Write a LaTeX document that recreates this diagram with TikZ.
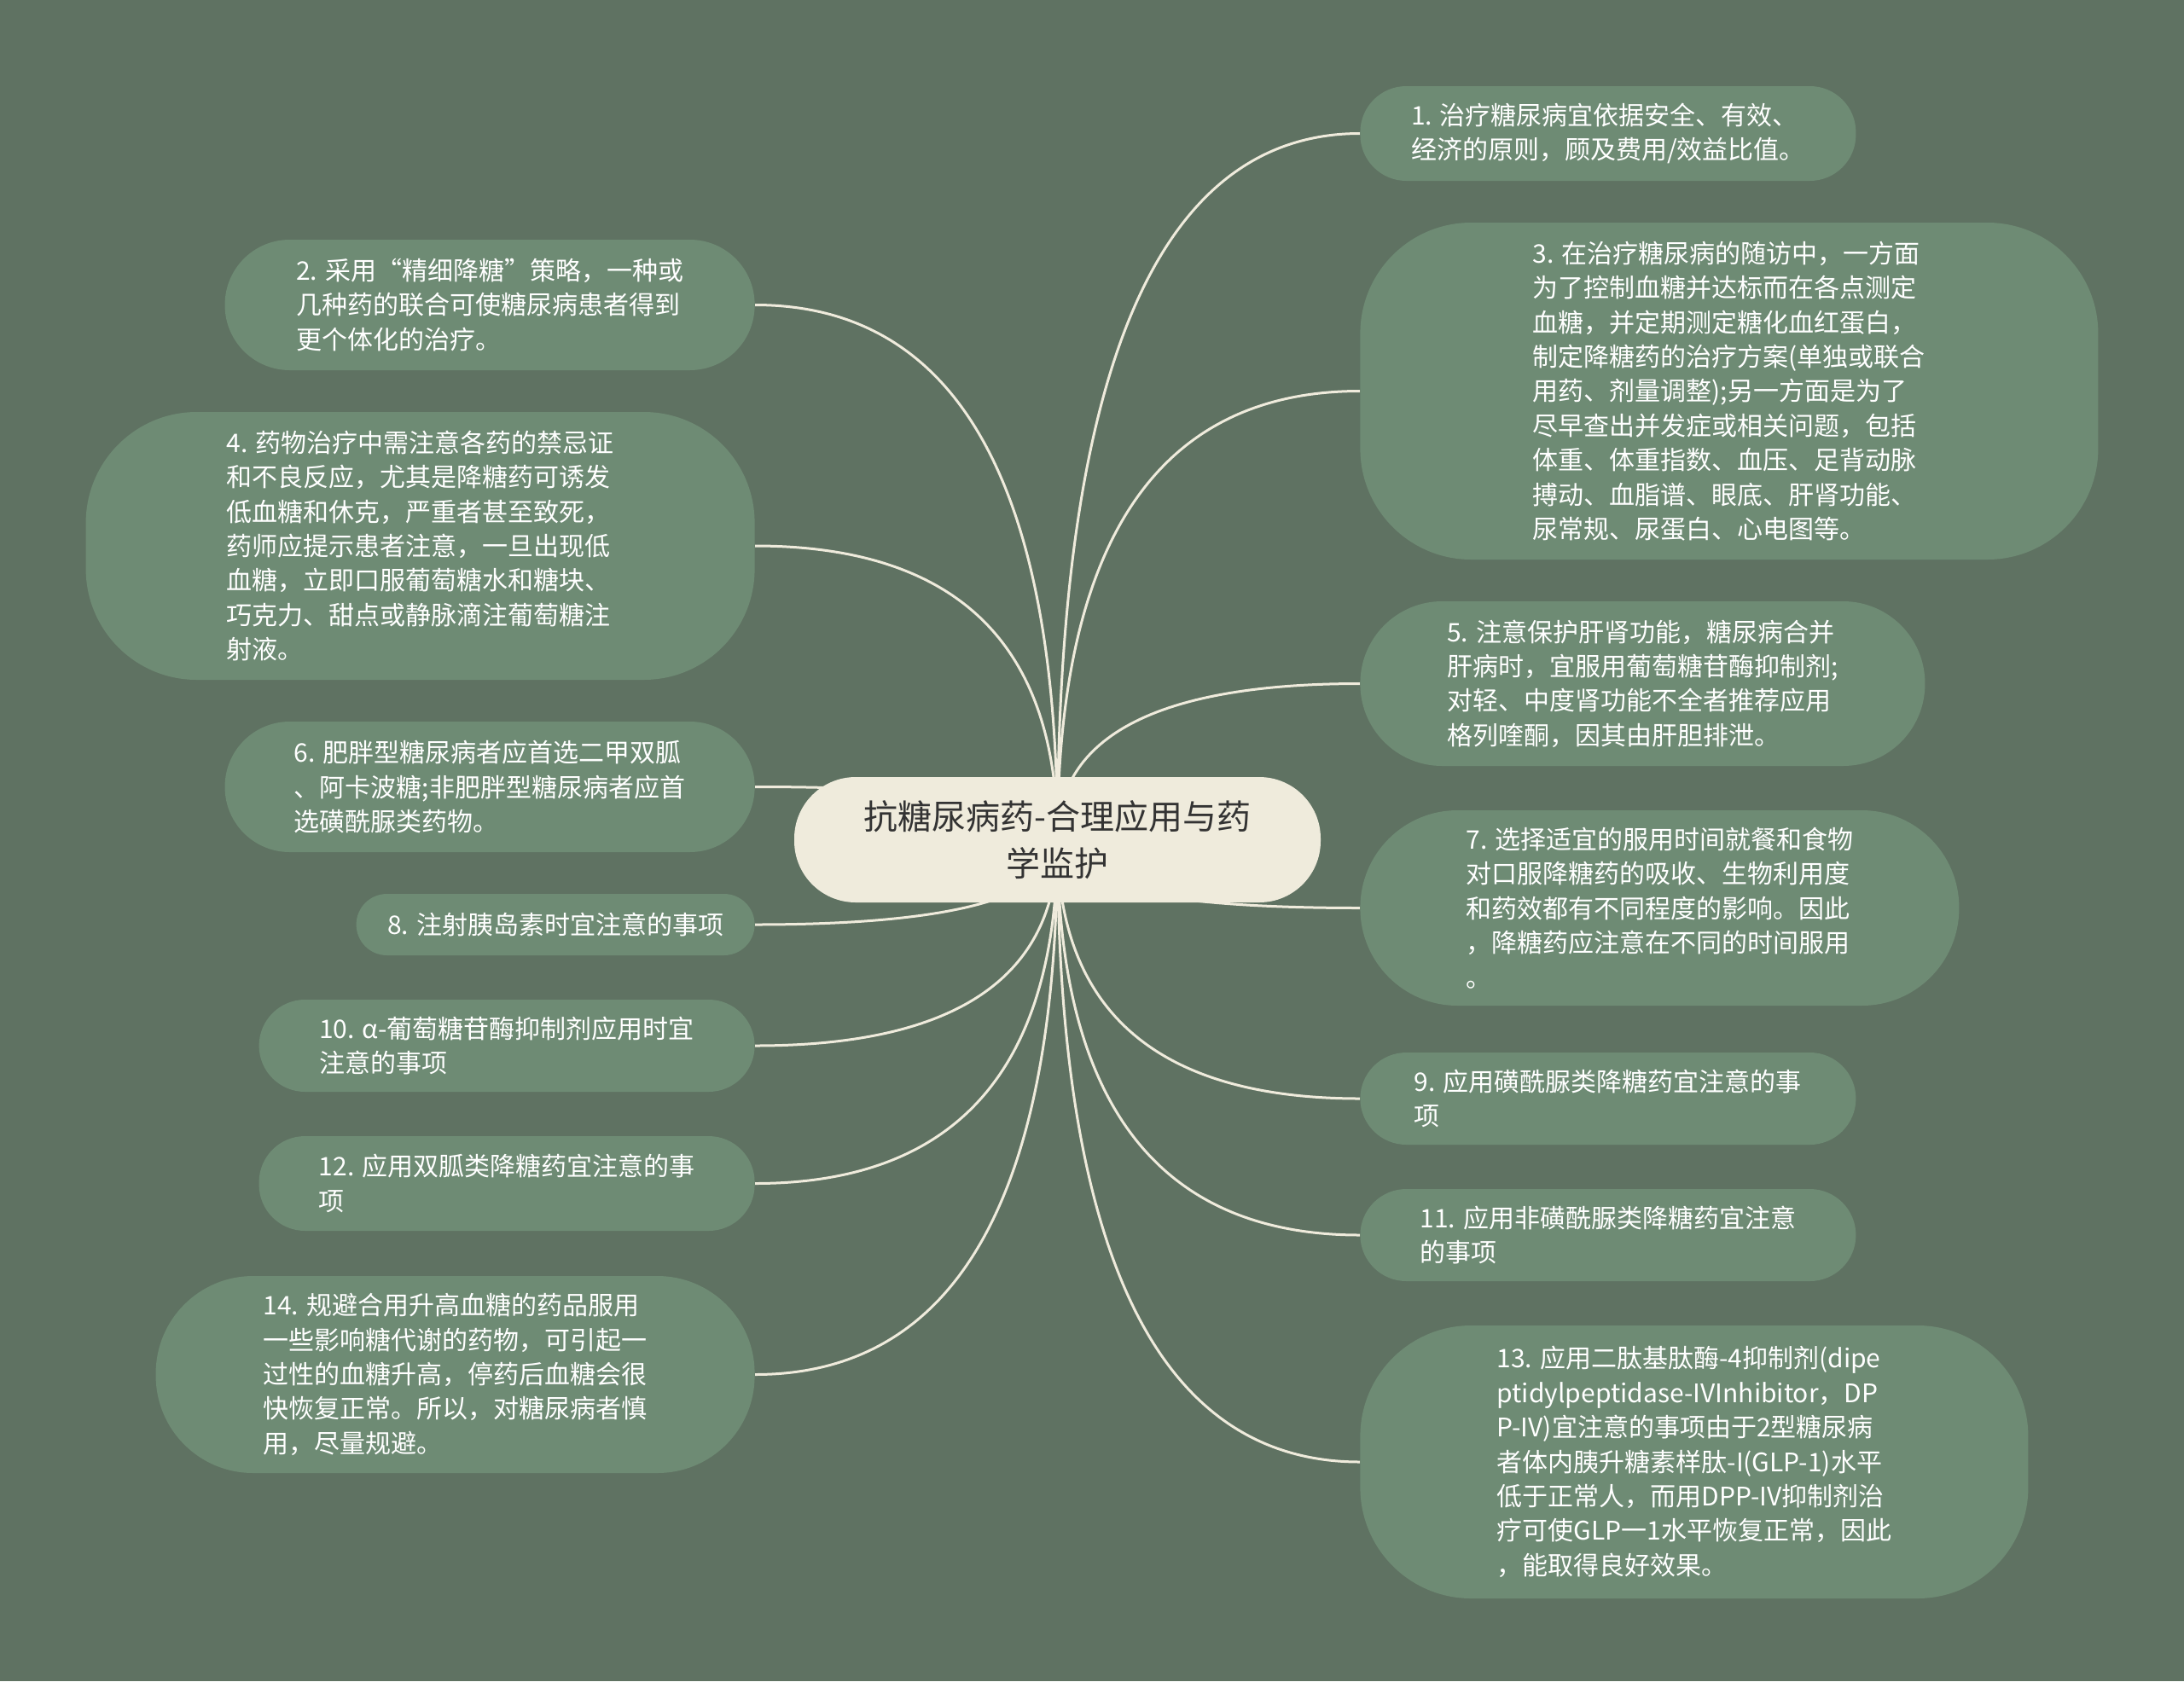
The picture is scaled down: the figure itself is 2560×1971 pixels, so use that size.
\documentclass[tikz,border=0pt]{standalone}
\usepackage{fontspec}
\setmainfont{Noto Sans CJK SC}
\usetikzlibrary{calc, backgrounds}
\definecolor{mapbg}{RGB}{95, 114, 98}
\definecolor{mapleaf}{RGB}{110, 139, 116}
\definecolor{mapcream}{RGB}{239, 235, 220}
\definecolor{maptext}{RGB}{51, 51, 51}

\begin{document}
\begin{tikzpicture}[x=0.5pt, y=-0.5pt,
    leaf/.style={fill=mapleaf, text=white, align=left, inner sep=0pt,
      font=\fontsize{15}{20.2}\selectfont},
    topic/.style={fill=mapcream, text=maptext, align=center, inner sep=0pt,
      minimum width=308.5pt, minimum height=73.5pt, rounded corners=36pt,
      font=\fontsize{20}{27.8}\selectfont},
    branch/.style={draw=mapcream, line width=1.5pt,
      to path={.. controls ($(\tikztostart)!2/3!(\tikztostart |- \tikztotarget)$)
        and ($(\tikztotarget)!2/3!(\tikztostart |- \tikztotarget)$) .. (\tikztotarget)}}]
    \useasboundingbox (0,0) rectangle (2560,1971);

    \node[topic] (root) at (1239.5,984.5) {抗糖尿病药-合理应用与药\\学监护};

    % right column
    \node[leaf, anchor=west, minimum width=290.5pt, minimum height=55.5pt, rounded corners=27pt] (n1) at (1594,156.5)
      {1. 治疗糖尿病宜依据安全、有效、\\经济的原则，顾及费用/效益比值。};
    \node[leaf, anchor=west, minimum width=432.5pt, minimum height=197.5pt, rounded corners=65pt] (n3) at (1594,458.5)
      {3. 在治疗糖尿病的随访中，一方面\\为了控制血糖并达标而在各点测定\\血糖，并定期测定糖化血红蛋白，\\制定降糖药的治疗方案(单独或联合\\用药、剂量调整);另一方面是为了\\尽早查出并发症或相关问题，包括\\体重、体重指数、血压、足背动脉\\搏动、血脂谱、眼底、肝肾功能、\\尿常规、尿蛋白、心电图等。};
    \node[leaf, anchor=west, minimum width=331pt, minimum height=96.5pt, rounded corners=48pt] (n5) at (1594,801.5)
      {5. 注意保护肝肾功能，糖尿病合并\\肝病时，宜服用葡萄糖苷酶抑制剂;\\对轻、中度肾功能不全者推荐应用\\格列喹酮，因其由肝胆排泄。};
    \node[leaf, anchor=west, minimum width=351pt, minimum height=114.5pt, rounded corners=57pt] (n7) at (1594,1064.5)
      {7. 选择适宜的服用时间就餐和食物\\对口服降糖药的吸收、生物利用度\\和药效都有不同程度的影响。因此\\，降糖药应注意在不同的时间服用\\。};
    \node[leaf, anchor=west, minimum width=290.5pt, minimum height=54pt, rounded corners=27pt] (n9) at (1594,1288)
      {9. 应用磺酰脲类降糖药宜注意的事\\项};
    \node[leaf, anchor=west, minimum width=290.5pt, minimum height=54pt, rounded corners=27pt] (n11) at (1594,1448)
      {11. 应用非磺酰脲类降糖药宜注意\\的事项};
    \node[leaf, anchor=west, minimum width=391.5pt, minimum height=160pt, rounded corners=65pt] (n13) at (1594,1714)
      {13. 应用二肽基肽酶-4抑制剂(dipe\\ptidylpeptidase-IVInhibitor，DP\\P-IV)宜注意的事项由于2型糖尿病\\者体内胰升糖素样肽-I(GLP-1)水平\\低于正常人，而用DPP-IV抑制剂治\\疗可使GLP一1水平恢复正常，因此\\，能取得良好效果。};

    % left column
    \node[leaf, anchor=east, minimum width=310.5pt, minimum height=76.5pt, rounded corners=38pt] (n2) at (885,357.5)
      {2. 采用“精细降糖”策略，一种或\\几种药的联合可使糖尿病患者得到\\更个体化的治疗。};
    \node[leaf, anchor=east, minimum width=392pt, minimum height=157pt, rounded corners=65pt] (n4) at (885,640)
      {4. 药物治疗中需注意各药的禁忌证\\和不良反应，尤其是降糖药可诱发\\低血糖和休克，严重者甚至致死，\\药师应提示患者注意，一旦出现低\\血糖，立即口服葡萄糖水和糖块、\\巧克力、甜点或静脉滴注葡萄糖注\\射液。};
    \node[leaf, anchor=east, minimum width=310.5pt, minimum height=76.5pt, rounded corners=38pt] (n6) at (885,922.5)
      {6. 肥胖型糖尿病者应首选二甲双胍\\、阿卡波糖;非肥胖型糖尿病者应首\\选磺酰脲类药物。};
    \node[leaf, anchor=east, minimum width=233.5pt, minimum height=36pt, rounded corners=18pt] (n8) at (885,1084)
      {8. 注射胰岛素时宜注意的事项};
    \node[leaf, anchor=east, minimum width=290.5pt, minimum height=54pt, rounded corners=27pt] (n10) at (885,1226)
      {10. α-葡萄糖苷酶抑制剂应用时宜\\注意的事项};
    \node[leaf, anchor=east, minimum width=290.5pt, minimum height=55.5pt, rounded corners=27pt] (n12) at (885,1387.5)
      {12. 应用双胍类降糖药宜注意的事\\项};
    \node[leaf, anchor=east, minimum width=351pt, minimum height=115.5pt, rounded corners=57pt] (n14) at (885,1611.5)
      {14. 规避合用升高血糖的药品服用\\一些影响糖代谢的药物，可引起一\\过性的血糖升高，停药后血糖会很\\快恢复正常。所以，对糖尿病者慎\\用，尽量规避。};

    \begin{scope}[on background layer]
      \fill[mapbg] (0,0) rectangle (2560,1971);
      \foreach \n in {n1,n3,n5,n7,n9,n11,n13}
        \draw[branch] (root.center) to (\n.west);
      \foreach \n in {n2,n4,n6,n8,n10,n12,n14}
        \draw[branch] (root.center) to (\n.east);
    \end{scope}
  \end{tikzpicture}
\end{document}
